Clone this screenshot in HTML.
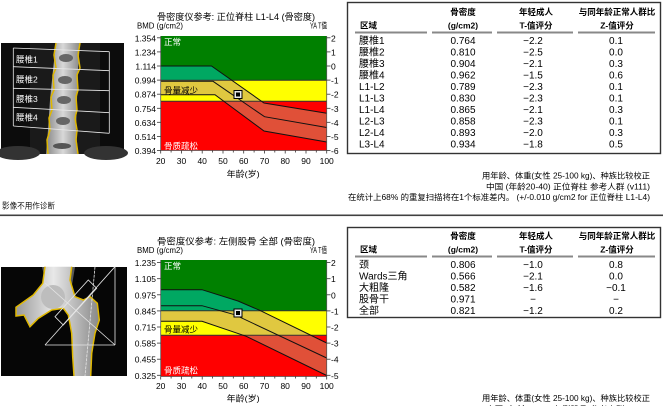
<!DOCTYPE html>
<html>
<head>
<meta charset="utf-8">
<style>
html,body{margin:0;padding:0;background:#fff;}
body{width:663px;height:406px;overflow:hidden;}
svg{display:block;}
text{font-family:"Liberation Sans","WenQuanYi Zen Hei","Noto Sans CJK SC",sans-serif;}
</style>
</head>
<body>
<svg width="663" height="406" viewBox="0 0 663 406" xmlns="http://www.w3.org/2000/svg">
<defs>
  <clipPath id="tG"><rect x="160.7" y="36" width="166" height="44.3"/></clipPath>
  <clipPath id="tY"><rect x="160.7" y="80.3" width="166" height="21"/></clipPath>
  <clipPath id="tR"><rect x="160.7" y="101.3" width="166" height="49.2"/></clipPath>
  <clipPath id="bG"><rect x="160.7" y="260" width="166" height="50.7"/></clipPath>
  <clipPath id="bY"><rect x="160.7" y="310.7" width="166" height="24.6"/></clipPath>
  <clipPath id="bR"><rect x="160.7" y="335.3" width="166" height="41.2"/></clipPath>
  <linearGradient id="spg" x1="0" x2="1" y1="0" y2="0">
    <stop offset="0" stop-color="#888"/>
    <stop offset="0.5" stop-color="#d8d8d8"/>
    <stop offset="1" stop-color="#888"/>
  </linearGradient>
  <linearGradient id="fmg" x1="0" x2="1" y1="0" y2="0">
    <stop offset="0" stop-color="#999"/>
    <stop offset="0.45" stop-color="#e8e8e8"/>
    <stop offset="1" stop-color="#888"/>
  </linearGradient>
</defs>
<rect width="663" height="406" fill="#fff"/>

<!-- ================= SPINE IMAGE ================= -->
<rect x="1" y="43" width="123" height="111" fill="#0c0c0c"/>
<rect x="30" y="43" width="70" height="111" fill="#1a1a1a"/>
<ellipse cx="18" cy="153" rx="22" ry="7" fill="#333"/>
<ellipse cx="106" cy="153" rx="22" ry="7" fill="#333"/>
<polygon points="56,43 80,43 78,70 77,100 76,130 78,154 46,154 48,130 50,100 53,70" fill="url(#spg)"/>
<ellipse cx="66" cy="58" rx="7" ry="4" fill="#666"/>
<ellipse cx="65" cy="80" rx="7" ry="4" fill="#666"/>
<ellipse cx="64" cy="100" rx="7" ry="4" fill="#666"/>
<ellipse cx="63" cy="121" rx="7" ry="4" fill="#666"/>
<ellipse cx="62" cy="146" rx="9" ry="3" fill="#555"/>
<polyline points="56,43 54,55 56,68 53,75 54,90 51,97 52,110 49,118 50,130 47,140 48,154" fill="none" stroke="#e0b800" stroke-width="1.5"/>
<polyline points="80,43 78,55 80,68 77,75 78,90 76,97 77,110 75,118 77,130 76,140 78,154" fill="none" stroke="#e0b800" stroke-width="1.5"/>
<g stroke="#e8e8e8" stroke-width="0.8" fill="none">
  <line x1="13.3" y1="48" x2="109.3" y2="51.7"/>
  <line x1="13.3" y1="66.7" x2="109.3" y2="70.7"/>
  <line x1="13.3" y1="88.3" x2="109.3" y2="90.7"/>
  <line x1="13.3" y1="107.3" x2="109.3" y2="112.7"/>
  <line x1="13.3" y1="126" x2="109.3" y2="133.3"/>
  <line x1="13.3" y1="48" x2="13.3" y2="126"/>
  <line x1="109.3" y1="51.7" x2="109.3" y2="133.3"/>
</g>
<g fill="#fff" font-size="8.5">
  <text x="16" y="62.5">腰椎1</text>
  <text x="16" y="82.5">腰椎2</text>
  <text x="16" y="102">腰椎3</text>
  <text x="16" y="120.5">腰椎4</text>
</g>
<text x="2" y="208.5" font-size="8" fill="#111" textLength="53" lengthAdjust="spacingAndGlyphs">影像不用作诊断</text>

<!-- separator -->
<rect x="0" y="214.5" width="663" height="1.6" fill="#404040"/>

<!-- ================= HIP IMAGE ================= -->
<rect x="1" y="267" width="126" height="109" fill="#060606"/>
<polygon points="42,267 75,267 72,285 60,290 47,288" fill="#5a5a5a"/>
<polygon points="45,266.7 42.7,283.3 33.3,295 16,307.3 16,316 24,315 30,326.7 38.3,318.3 51.7,310 63.3,308.3 68.3,315 71.7,333.3 72.7,356.7 74,376 90.7,376 91.7,353.3 95,333.3 99.3,320 97.3,303.3 90,296.7 83.3,300 75,296.7 70,280 71.7,266.7" fill="url(#fmg)"/>
<circle cx="53" cy="297" r="12" fill="#bdbdbd"/>
<polyline points="45,266.7 42.7,283.3 33.3,295 16,307.3 16,316 24,315 30,326.7 38.3,318.3 51.7,310 63.3,308.3 68.3,315 71.7,333.3 72.7,356.7 74,376" fill="none" stroke="#e0b800" stroke-width="1.5"/>
<polyline points="71.7,266.7 70,280 75,296.7 83.3,300 90,296.7 97.3,303.3 99.3,320 95,333.3 91.7,353.3 90.7,376" fill="none" stroke="#e0b800" stroke-width="1.5"/>
<g stroke="#e6e6e6" stroke-width="0.8" fill="none">
  <line x1="45" y1="345" x2="115" y2="345"/>
  <line x1="115" y1="266.7" x2="115" y2="345"/>
  <line x1="45" y1="345" x2="115" y2="266.7"/>
  <line x1="45" y1="283" x2="115" y2="345"/>
  <polygon points="55,316.7 88.3,280 96.7,288.3 63.3,325"/>
  <line x1="95" y1="266.7" x2="85" y2="376" stroke-dasharray="3,1"/>
</g>

<!-- ================= TOP CHART ================= -->
<text x="157" y="20" font-size="9" fill="#000" textLength="158" lengthAdjust="spacingAndGlyphs">骨密度仪参考:  正位脊柱 L1-L4 (骨密度)</text>
<text x="137" y="28.5" font-size="8.5" fill="#000" textLength="46" lengthAdjust="spacingAndGlyphs">BMD (g/cm2)</text>
<text x="310" y="28.5" font-size="8.5" fill="#000" textLength="17" lengthAdjust="spacingAndGlyphs">YA T值</text>

<rect x="160.7" y="36" width="166" height="44.3" fill="#008000"/>
<rect x="160.7" y="80.3" width="166" height="21" fill="#ffff00"/>
<rect x="160.7" y="101.3" width="166" height="49.2" fill="#ff0000"/>
<g>
  <polygon clip-path="url(#tG)" points="160.7,66 211.5,66 264,103 326.7,113.3 326.7,142 264,131 215,94.7 160.7,94.7" fill="#00a862"/>
  <polygon clip-path="url(#tY)" points="160.7,66 211.5,66 264,103 326.7,113.3 326.7,142 264,131 215,94.7 160.7,94.7" fill="#e0c840"/>
  <polygon clip-path="url(#tR)" points="160.7,66 211.5,66 264,103 326.7,113.3 326.7,142 264,131 215,94.7 160.7,94.7" fill="#e05038"/>
</g>
<line x1="160.7" y1="80.3" x2="326.7" y2="80.3" stroke="#333" stroke-width="1"/>
<line x1="160.7" y1="101.3" x2="326.7" y2="101.3" stroke="#333" stroke-width="1"/>
<g fill="none" stroke="#111" stroke-width="1">
  <polyline points="160.7,66 211.5,66 264,103 326.7,113.3"/>
  <polyline points="160.7,81.3 213,81.3 264.5,116.7 326.7,127.5"/>
  <polyline points="160.7,94.7 215,94.7 264,131 326.7,142"/>
</g>
<rect x="234" y="90.5" width="8" height="8" fill="#e8e8e8" stroke="#000" stroke-width="1"/>
<rect x="236" y="92.5" width="4" height="4" fill="#000"/>
<text x="164" y="45" font-size="8.5" fill="#fff">正常</text>
<text x="164" y="93.5" font-size="8.5" fill="#000">骨量减少</text>
<text x="164" y="149" font-size="8.5" fill="#fff">骨质疏松</text>
<g stroke="#555" stroke-width="0.8">
  <line x1="160.7" y1="36" x2="160.7" y2="150.5"/>
  <line x1="160.7" y1="150.5" x2="326.7" y2="150.5"/>
  <line x1="326.7" y1="36" x2="326.7" y2="150.5"/>
</g>
<g stroke="#333" stroke-width="0.8">
  <line x1="157" y1="37.8" x2="160.7" y2="37.8"/><line x1="157" y1="51.9" x2="160.7" y2="51.9"/>
  <line x1="157" y1="66" x2="160.7" y2="66"/><line x1="157" y1="80.1" x2="160.7" y2="80.1"/>
  <line x1="157" y1="94.2" x2="160.7" y2="94.2"/><line x1="157" y1="108.3" x2="160.7" y2="108.3"/>
  <line x1="157" y1="122.3" x2="160.7" y2="122.3"/><line x1="157" y1="136.4" x2="160.7" y2="136.4"/>
  <line x1="157" y1="150.5" x2="160.7" y2="150.5"/>
  <line x1="326.7" y1="37.8" x2="330.5" y2="37.8"/><line x1="326.7" y1="51.9" x2="330.5" y2="51.9"/>
  <line x1="326.7" y1="66" x2="330.5" y2="66"/><line x1="326.7" y1="80.1" x2="330.5" y2="80.1"/>
  <line x1="326.7" y1="94.2" x2="330.5" y2="94.2"/><line x1="326.7" y1="108.3" x2="330.5" y2="108.3"/>
  <line x1="326.7" y1="122.3" x2="330.5" y2="122.3"/><line x1="326.7" y1="136.4" x2="330.5" y2="136.4"/>
  <line x1="326.7" y1="150.5" x2="330.5" y2="150.5"/>
</g>
<g stroke="#333" stroke-width="0.8">
  <line x1="160.7" y1="150.5" x2="160.7" y2="153.5"/><line x1="171.1" y1="150.5" x2="171.1" y2="152.5"/>
  <line x1="181.5" y1="150.5" x2="181.5" y2="153.5"/><line x1="191.8" y1="150.5" x2="191.8" y2="152.5"/>
  <line x1="202.2" y1="150.5" x2="202.2" y2="153.5"/><line x1="212.6" y1="150.5" x2="212.6" y2="152.5"/>
  <line x1="223" y1="150.5" x2="223" y2="153.5"/><line x1="233.3" y1="150.5" x2="233.3" y2="152.5"/>
  <line x1="243.7" y1="150.5" x2="243.7" y2="153.5"/><line x1="254.1" y1="150.5" x2="254.1" y2="152.5"/>
  <line x1="264.5" y1="150.5" x2="264.5" y2="153.5"/><line x1="274.8" y1="150.5" x2="274.8" y2="152.5"/>
  <line x1="285.2" y1="150.5" x2="285.2" y2="153.5"/><line x1="295.6" y1="150.5" x2="295.6" y2="152.5"/>
  <line x1="306" y1="150.5" x2="306" y2="153.5"/><line x1="316.3" y1="150.5" x2="316.3" y2="152.5"/>
  <line x1="326.7" y1="150.5" x2="326.7" y2="153.5"/>
</g>
<g font-size="8.5" fill="#000" text-anchor="end">
  <text x="156" y="41.3">1.354</text><text x="156" y="55.4">1.234</text>
  <text x="156" y="69.5">1.114</text><text x="156" y="83.6">0.994</text>
  <text x="156" y="97.7">0.874</text><text x="156" y="111.8">0.754</text>
  <text x="156" y="125.8">0.634</text><text x="156" y="139.9">0.514</text>
  <text x="156" y="154">0.394</text>
</g>
<g font-size="8.5" fill="#000">
  <text x="331" y="41.3">2</text><text x="331" y="55.4">1</text>
  <text x="331" y="69.5">0</text><text x="331" y="83.6">-1</text>
  <text x="331" y="97.7">-2</text><text x="331" y="111.8">-3</text>
  <text x="331" y="125.8">-4</text><text x="331" y="139.9">-5</text>
  <text x="331" y="154">-6</text>
</g>
<g font-size="8.5" fill="#000" text-anchor="middle">
  <text x="160.7" y="164">20</text><text x="181.5" y="164">30</text>
  <text x="202.2" y="164">40</text><text x="223" y="164">50</text>
  <text x="243.7" y="164">60</text><text x="264.5" y="164">70</text>
  <text x="285.2" y="164">80</text><text x="306" y="164">90</text>
  <text x="326.7" y="164">100</text>
</g>
<text x="226.7" y="177" font-size="8.5" fill="#000" textLength="33" lengthAdjust="spacingAndGlyphs">年龄(岁)</text>

<!-- ================= TOP TABLE ================= -->
<rect x="347.5" y="2.5" width="313" height="151" fill="none" stroke="#333" stroke-width="1.4"/>
<g font-size="8.5" font-weight="bold" fill="#000" text-anchor="middle">
  <text x="463" y="15">骨密度</text>
  <text x="463" y="28.5">(g/cm2)</text>
  <text x="536" y="15">年轻成人</text>
  <text x="536" y="28.5">T-值评分</text>
  <text x="617" y="15">与同年龄正常人群比</text>
  <text x="617" y="28.5">Z-值评分</text>
</g>
<text x="360" y="28.5" font-size="8.5" font-weight="bold" fill="#000">区域</text>
<g fill="#888">
  <rect x="355" y="31.5" width="72" height="2"/>
  <rect x="432" y="31.5" width="60" height="2"/>
  <rect x="497" y="31.5" width="76" height="2"/>
  <rect x="578" y="31.5" width="77" height="2"/>
</g>
<g font-size="10" fill="#000">
  <text x="359" y="44">腰椎1</text><text x="359" y="55.5">腰椎2</text>
  <text x="359" y="67">腰椎3</text><text x="359" y="78.5">腰椎4</text>
  <text x="359" y="90">L1-L2</text><text x="359" y="101.5">L1-L3</text>
  <text x="359" y="113">L1-L4</text><text x="359" y="124.5">L2-L3</text>
  <text x="359" y="136">L2-L4</text><text x="359" y="147.5">L3-L4</text>
</g>
<g font-size="10" fill="#000" text-anchor="middle">
  <text x="463" y="44">0.764</text><text x="533" y="44">−2.2</text><text x="616" y="44">0.1</text>
  <text x="463" y="55.5">0.810</text><text x="533" y="55.5">−2.5</text><text x="616" y="55.5">0.0</text>
  <text x="463" y="67">0.904</text><text x="533" y="67">−2.1</text><text x="616" y="67">0.3</text>
  <text x="463" y="78.5">0.962</text><text x="533" y="78.5">−1.5</text><text x="616" y="78.5">0.6</text>
  <text x="463" y="90">0.789</text><text x="533" y="90">−2.3</text><text x="616" y="90">0.1</text>
  <text x="463" y="101.5">0.830</text><text x="533" y="101.5">−2.3</text><text x="616" y="101.5">0.1</text>
  <text x="463" y="113">0.865</text><text x="533" y="113">−2.1</text><text x="616" y="113">0.3</text>
  <text x="463" y="124.5">0.858</text><text x="533" y="124.5">−2.3</text><text x="616" y="124.5">0.1</text>
  <text x="463" y="136">0.893</text><text x="533" y="136">−2.0</text><text x="616" y="136">0.3</text>
  <text x="463" y="147.5">0.934</text><text x="533" y="147.5">−1.8</text><text x="616" y="147.5">0.5</text>
</g>
<g font-size="8" fill="#000">
  <text x="482" y="178.5" textLength="168" lengthAdjust="spacingAndGlyphs">用年龄、体重(女性 25-100 kg)、种族比较校正</text>
  <text x="486" y="189.5" textLength="164" lengthAdjust="spacingAndGlyphs">中国 (年龄20-40) 正位脊柱 参考人群 (v111)</text>
  <text x="348" y="200" textLength="302" lengthAdjust="spacingAndGlyphs">在统计上68% 的重复扫描将在1个标准差内。 (+/-0.010 g/cm2 for 正位脊柱 L1-L4)</text>
</g>

<!-- ================= BOTTOM CHART ================= -->
<text x="157" y="244.5" font-size="9" fill="#000" textLength="158" lengthAdjust="spacingAndGlyphs">骨密度仪参考:  左侧股骨 全部 (骨密度)</text>
<text x="137" y="253" font-size="8.5" fill="#000" textLength="46" lengthAdjust="spacingAndGlyphs">BMD (g/cm2)</text>
<text x="310" y="253" font-size="8.5" fill="#000" textLength="17" lengthAdjust="spacingAndGlyphs">YA T值</text>

<rect x="160.7" y="260" width="166" height="50.7" fill="#008000"/>
<rect x="160.7" y="310.7" width="166" height="24.6" fill="#ffff00"/>
<rect x="160.7" y="335.3" width="166" height="41.2" fill="#ff0000"/>
<g>
  <polygon clip-path="url(#bG)" points="160.7,289.7 202,289.7 238,301 259.7,310.3 326.7,343 326.7,375.5 246.3,336.3 202,321.3 160.7,321.3" fill="#00a862"/>
  <polygon clip-path="url(#bY)" points="160.7,289.7 202,289.7 238,301 259.7,310.3 326.7,343 326.7,375.5 246.3,336.3 202,321.3 160.7,321.3" fill="#e0c840"/>
  <polygon clip-path="url(#bR)" points="160.7,289.7 202,289.7 238,301 259.7,310.3 326.7,343 326.7,375.5 246.3,336.3 202,321.3 160.7,321.3" fill="#e05038"/>
</g>
<line x1="160.7" y1="310.7" x2="326.7" y2="310.7" stroke="#333" stroke-width="1"/>
<line x1="160.7" y1="335.3" x2="326.7" y2="335.3" stroke="#333" stroke-width="1"/>
<g fill="none" stroke="#111" stroke-width="1">
  <polyline points="160.7,289.7 202,289.7 238,301 259.7,310.3 326.7,343"/>
  <polyline points="160.7,305.7 202,305.7 234.7,314.7 326.7,358"/>
  <polyline points="160.7,321.3 202,321.3 246.3,336.3 326.7,375.5"/>
</g>
<rect x="234" y="309" width="8" height="8" fill="#e8e8e8" stroke="#000" stroke-width="1"/>
<rect x="236" y="311" width="4" height="4" fill="#000"/>
<text x="164" y="269" font-size="8.5" fill="#fff">正常</text>
<text x="164" y="332.5" font-size="8.5" fill="#000">骨量减少</text>
<text x="164" y="373.5" font-size="8.5" fill="#fff">骨质疏松</text>
<g stroke="#555" stroke-width="0.8">
  <line x1="160.7" y1="260" x2="160.7" y2="376.5"/>
  <line x1="160.7" y1="376.5" x2="326.7" y2="376.5"/>
  <line x1="326.7" y1="260" x2="326.7" y2="376.5"/>
</g>
<g stroke="#333" stroke-width="0.8">
  <line x1="157" y1="262.6" x2="160.7" y2="262.6"/><line x1="157" y1="278.7" x2="160.7" y2="278.7"/>
  <line x1="157" y1="294.8" x2="160.7" y2="294.8"/><line x1="157" y1="310.9" x2="160.7" y2="310.9"/>
  <line x1="157" y1="327" x2="160.7" y2="327"/><line x1="157" y1="343.1" x2="160.7" y2="343.1"/>
  <line x1="157" y1="359.2" x2="160.7" y2="359.2"/><line x1="157" y1="375.3" x2="160.7" y2="375.3"/>
  <line x1="326.7" y1="262.6" x2="330.5" y2="262.6"/><line x1="326.7" y1="278.7" x2="330.5" y2="278.7"/>
  <line x1="326.7" y1="294.8" x2="330.5" y2="294.8"/><line x1="326.7" y1="310.9" x2="330.5" y2="310.9"/>
  <line x1="326.7" y1="327" x2="330.5" y2="327"/><line x1="326.7" y1="343.1" x2="330.5" y2="343.1"/>
  <line x1="326.7" y1="359.2" x2="330.5" y2="359.2"/><line x1="326.7" y1="375.3" x2="330.5" y2="375.3"/>
</g>
<g stroke="#333" stroke-width="0.8">
  <line x1="160.7" y1="376.5" x2="160.7" y2="379.5"/><line x1="171.1" y1="376.5" x2="171.1" y2="378.5"/>
  <line x1="181.5" y1="376.5" x2="181.5" y2="379.5"/><line x1="191.8" y1="376.5" x2="191.8" y2="378.5"/>
  <line x1="202.2" y1="376.5" x2="202.2" y2="379.5"/><line x1="212.6" y1="376.5" x2="212.6" y2="378.5"/>
  <line x1="223" y1="376.5" x2="223" y2="379.5"/><line x1="233.3" y1="376.5" x2="233.3" y2="378.5"/>
  <line x1="243.7" y1="376.5" x2="243.7" y2="379.5"/><line x1="254.1" y1="376.5" x2="254.1" y2="378.5"/>
  <line x1="264.5" y1="376.5" x2="264.5" y2="379.5"/><line x1="274.8" y1="376.5" x2="274.8" y2="378.5"/>
  <line x1="285.2" y1="376.5" x2="285.2" y2="379.5"/><line x1="295.6" y1="376.5" x2="295.6" y2="378.5"/>
  <line x1="306" y1="376.5" x2="306" y2="379.5"/><line x1="316.3" y1="376.5" x2="316.3" y2="378.5"/>
  <line x1="326.7" y1="376.5" x2="326.7" y2="379.5"/>
</g>
<g font-size="8.5" fill="#000" text-anchor="end">
  <text x="156" y="266.1">1.235</text><text x="156" y="282.2">1.105</text>
  <text x="156" y="298.3">0.975</text><text x="156" y="314.4">0.845</text>
  <text x="156" y="330.5">0.715</text><text x="156" y="346.6">0.585</text>
  <text x="156" y="362.7">0.455</text><text x="156" y="378.8">0.325</text>
</g>
<g font-size="8.5" fill="#000">
  <text x="331" y="266.1">2</text><text x="331" y="282.2">1</text>
  <text x="331" y="298.3">0</text><text x="331" y="314.4">-1</text>
  <text x="331" y="330.5">-2</text><text x="331" y="346.6">-3</text>
  <text x="331" y="362.7">-4</text><text x="331" y="378.8">-5</text>
</g>
<g font-size="8.5" fill="#000" text-anchor="middle">
  <text x="160.7" y="389">20</text><text x="181.5" y="389">30</text>
  <text x="202.2" y="389">40</text><text x="223" y="389">50</text>
  <text x="243.7" y="389">60</text><text x="264.5" y="389">70</text>
  <text x="285.2" y="389">80</text><text x="306" y="389">90</text>
  <text x="326.7" y="389">100</text>
</g>
<text x="226.7" y="401.5" font-size="8.5" fill="#000" textLength="33" lengthAdjust="spacingAndGlyphs">年龄(岁)</text>

<!-- ================= BOTTOM TABLE ================= -->
<rect x="347.5" y="227.5" width="313" height="90" fill="none" stroke="#333" stroke-width="1.4"/>
<g font-size="8.5" font-weight="bold" fill="#000" text-anchor="middle">
  <text x="463" y="239">骨密度</text>
  <text x="463" y="252.5">(g/cm2)</text>
  <text x="536" y="239">年轻成人</text>
  <text x="536" y="252.5">T-值评分</text>
  <text x="617" y="239">与同年龄正常人群比</text>
  <text x="617" y="252.5">Z-值评分</text>
</g>
<text x="360" y="252.5" font-size="8.5" font-weight="bold" fill="#000">区域</text>
<g fill="#888">
  <rect x="355" y="255.5" width="72" height="2"/>
  <rect x="432" y="255.5" width="60" height="2"/>
  <rect x="497" y="255.5" width="76" height="2"/>
  <rect x="578" y="255.5" width="77" height="2"/>
</g>
<g font-size="10" fill="#000">
  <text x="359" y="268">颈</text>
  <text x="359" y="279.5">Wards三角</text>
  <text x="359" y="291">大粗隆</text>
  <text x="359" y="302.5">股骨干</text>
  <text x="359" y="314">全部</text>
</g>
<g font-size="10" fill="#000" text-anchor="middle">
  <text x="463" y="268">0.806</text><text x="533" y="268">−1.0</text><text x="616" y="268">0.8</text>
  <text x="463" y="279.5">0.566</text><text x="533" y="279.5">−2.1</text><text x="616" y="279.5">0.0</text>
  <text x="463" y="291">0.582</text><text x="533" y="291">−1.6</text><text x="616" y="291">−0.1</text>
  <text x="463" y="302.5">0.971</text><text x="533" y="302.5">−</text><text x="616" y="302.5">−</text>
  <text x="463" y="314">0.821</text><text x="533" y="314">−1.2</text><text x="616" y="314">0.2</text>
</g>
<g font-size="8" fill="#000">
  <text x="482" y="401" textLength="168" lengthAdjust="spacingAndGlyphs">用年龄、体重(女性 25-100 kg)、种族比较校正</text>
  <text x="486" y="412" textLength="164" lengthAdjust="spacingAndGlyphs">中国 (年龄20-40) 左侧股骨 参考人群 (v111)</text>
</g>
</svg>
</body>
</html>
